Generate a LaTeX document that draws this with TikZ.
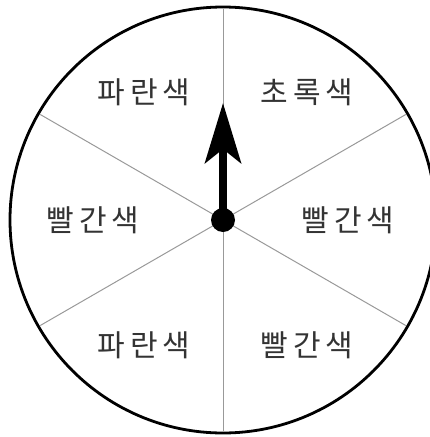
\documentclass[tikz,border=0pt]{standalone}
\usepackage{fontspec}
\newfontfamily\kr{Noto Sans CJK KR}
\usetikzlibrary{arrows.meta}
\newcommand{\gp}{\hspace{5pt}}
\begin{document}
\begin{tikzpicture}[x=1pt,y=-1pt,
  spoke/.style={draw=black!40, line width=1pt},
  rim/.style={draw=black, line width=2.8pt},
  label/.style={font=\kr\fontsize{30}{33}\selectfont, inner sep=0pt, text=black!80},
  hubstyle/.style={circle, fill=black, minimum size=24pt, inner sep=0pt},
  pointer/.style={line width=8pt, -{Stealth[length=60pt, width=36pt, inset=14pt]}}]
\useasboundingbox (0,0) rectangle (430,437);
\coordinate (c) at (223,220);
\foreach \a in {30,90,150,210,270,330}
  \draw[spoke] (c) -- ++(\a:-211);
\draw[rim] (c) circle (213);
\node[label] (t1) at (144,92) {파\gp 란\gp 색};
\node[label] (t2) at (307,92) {초\gp 록\gp 색};
\node[label] (t3) at (93,220) {빨\gp 간\gp 색};
\node[label] (t4) at (348,220) {빨\gp 간\gp 색};
\node[label] (t5) at (144,345) {파\gp 란\gp 색};
\node[label] (t6) at (307,345) {빨\gp 간\gp 색};
\coordinate (tip) at (223,103);
\node[hubstyle] (hub) at (c) {};
\draw[pointer] (hub.center) -- (tip);
\end{tikzpicture}
\end{document}
